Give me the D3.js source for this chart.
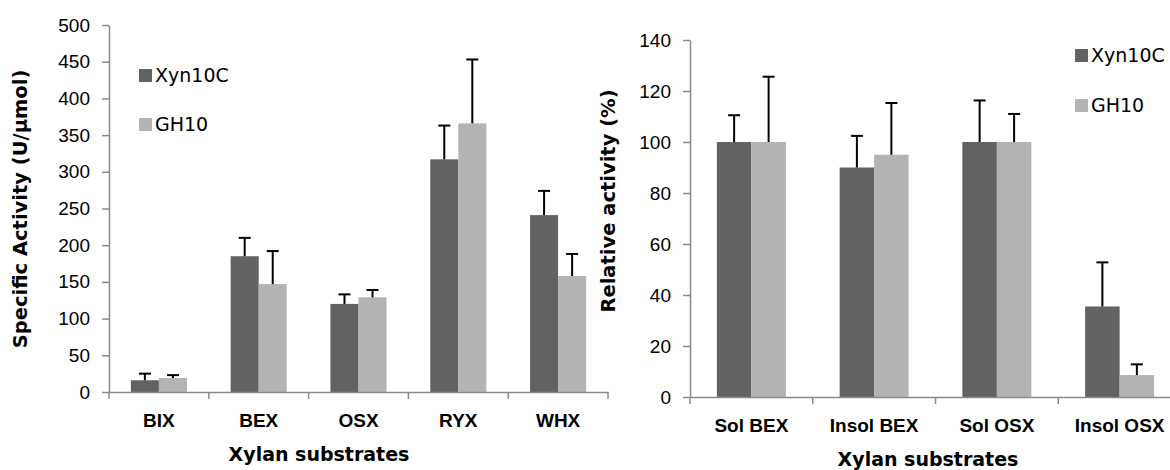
<!DOCTYPE html>
<html>
<head>
<meta charset="utf-8">
<script src="https://cdn.jsdelivr.net/npm/d3@7/dist/d3.min.js"></script>
<style>
  html, body { margin: 0; padding: 0; background: #fff; }
  svg { display: block; overflow: hidden; }
</style>
</head>
<body>
<script>
// Data
const series = ["Xyn10C", "GH10"]
const seriesColors = ["#626262", "#b3b3b3"]

const leftCategories = ["BIX", "BEX", "OSX", "RYX", "WHX"]
const leftXyn10C = [16, 185, 120, 317, 241]
const leftXyn10CErr = [9, 25, 13, 46, 33]
const leftGH10 = [19, 147, 129, 366, 158]
const leftGH10Err = [4, 45, 10, 87, 30]
const leftTicks = [0, 50, 100, 150, 200, 250, 300, 350, 400, 450, 500]

const rightCategories = ["Sol BEX", "Insol BEX", "Sol OSX", "Insol OSX"]
const rightXyn10C = [100, 90, 100, 35.5]
const rightXyn10CErr = [10.5, 12.4, 16.3, 17.3]
const rightGH10 = [100, 95, 100, 8.6]
const rightGH10Err = [25.6, 20.3, 11, 4.2]
const rightTicks = [0, 20, 40, 60, 80, 100, 120, 140]

// Create SVG
const svg = d3.select("body").append("svg")
  .attr("width", 1170)
  .attr("height", 470)
  .attr("font-family", "'DejaVu Sans', Verdana, sans-serif")

function panel(cfg) {
  const { categories, values, errors, ticks, left, right, top, bottom } = cfg
  const x = d3.scaleBand().domain(categories).range([left, right])
  const x1 = d3.scaleBand().domain(series).range([0, x.bandwidth()]).paddingOuter(0.78)
  const y = d3.scaleLinear().domain([0, d3.max(ticks)]).range([bottom, top])
  const g = svg.append("g")

  // Y axis
  g.append("g")
    .attr("transform", `translate(${left},0)`)
    .call(d3.axisLeft(y).tickValues(ticks).tickSize(7).tickPadding(12).tickSizeOuter(0))
    .call(a => a.selectAll("path, line").attr("stroke", "#8a8a8a").attr("stroke-width", 1.5))
    .call(a => a.selectAll("text").attr("fill", "#000").attr("font-size", "19px").attr("font-family", null))

  // Bars
  const rows = categories.map((c, i) => series.map((s, j) => ({ c, s, j, v: values[j][i], e: errors[j][i] }))).flat()
  g.append("g")
    .selectAll("rect")
    .data(rows)
    .join("rect")
    .attr("x", d => x(d.c) + x1(d.s))
    .attr("y", d => y(d.v))
    .attr("width", x1.bandwidth())
    .attr("height", d => y(0) - y(d.v))
    .attr("fill", d => seriesColors[d.j])

  // Error bars
  const eb = g.append("g").attr("stroke", "#000").attr("stroke-width", 2)
  eb.selectAll("line.v")
    .data(rows)
    .join("line")
    .attr("class", "v")
    .attr("x1", d => x(d.c) + x1(d.s) + x1.bandwidth() / 2)
    .attr("x2", d => x(d.c) + x1(d.s) + x1.bandwidth() / 2)
    .attr("y1", d => y(d.v))
    .attr("y2", d => y(d.v + d.e))
  eb.selectAll("line.cap")
    .data(rows)
    .join("line")
    .attr("class", "cap")
    .attr("x1", d => x(d.c) + x1(d.s) + x1.bandwidth() / 2 - 6)
    .attr("x2", d => x(d.c) + x1(d.s) + x1.bandwidth() / 2 + 6)
    .attr("y1", d => y(d.v + d.e))
    .attr("y2", d => y(d.v + d.e))

  // X axis, ticks between categories
  const xa = g.append("g").attr("transform", `translate(0,${bottom})`)
  xa.call(d3.axisBottom(x).tickSize(0).tickPadding(cfg.labelPad))
    .call(a => a.select("path").attr("stroke", "#8a8a8a").attr("stroke-width", 1.5))
    .call(a => a.selectAll("text").attr("fill", "#000").attr("font-size", "19px").attr("font-weight", "bold").attr("font-family", null))
  xa.selectAll("line.sep")
    .data(categories.map(c => x(c)).concat([right]))
    .join("line")
    .attr("class", "sep")
    .attr("x1", d => d).attr("x2", d => d)
    .attr("y1", 0).attr("y2", 7)
    .attr("stroke", "#8a8a8a").attr("stroke-width", 1.5)

  // Axis titles
  g.append("text")
    .attr("transform", `translate(${cfg.yTitleX},${cfg.yTitleY}) rotate(-90)`)
    .attr("text-anchor", "middle")
    .attr("font-size", "19.5px")
    .attr("font-weight", "bold")
    .text(cfg.yTitle)
  g.append("text")
    .attr("x", cfg.xTitleX)
    .attr("y", cfg.xTitleY)
    .attr("text-anchor", "middle")
    .attr("font-size", "19px")
    .attr("font-weight", "bold")
    .text("Xylan substrates")

  // Legend
  const lg = g.append("g").attr("transform", `translate(${cfg.legend[0]},${cfg.legend[1]})`)
  series.forEach((s, j) => {
    lg.append("rect")
      .attr("x", 0).attr("y", j * cfg.legendStep)
      .attr("width", 13).attr("height", 13)
      .attr("fill", seriesColors[j])
    lg.append("text")
      .attr("x", 16).attr("y", j * cfg.legendStep + 13)
      .attr("font-size", "19px")
      .text(s)
  })
}

panel({
  categories: leftCategories,
  values: [leftXyn10C, leftGH10],
  errors: [leftXyn10CErr, leftGH10Err],
  ticks: leftTicks,
  left: 109, right: 608, top: 25, bottom: 392,
  labelPad: 22,
  yTitle: "Specific Activity (U/µmol)", yTitleX: 27, yTitleY: 209,
  xTitleX: 319, xTitleY: 461,
  legend: [139, 69], legendStep: 49
})

panel({
  categories: rightCategories,
  values: [rightXyn10C, rightGH10],
  errors: [rightXyn10CErr, rightGH10Err],
  ticks: rightTicks,
  left: 690, right: 1181, top: 40, bottom: 397,
  labelPad: 22,
  yTitle: "Relative activity (%)", yTitleX: 615, yTitleY: 201,
  xTitleX: 928, xTitleY: 466,
  legend: [1075, 49], legendStep: 50
})
</script>
</body>
</html>
